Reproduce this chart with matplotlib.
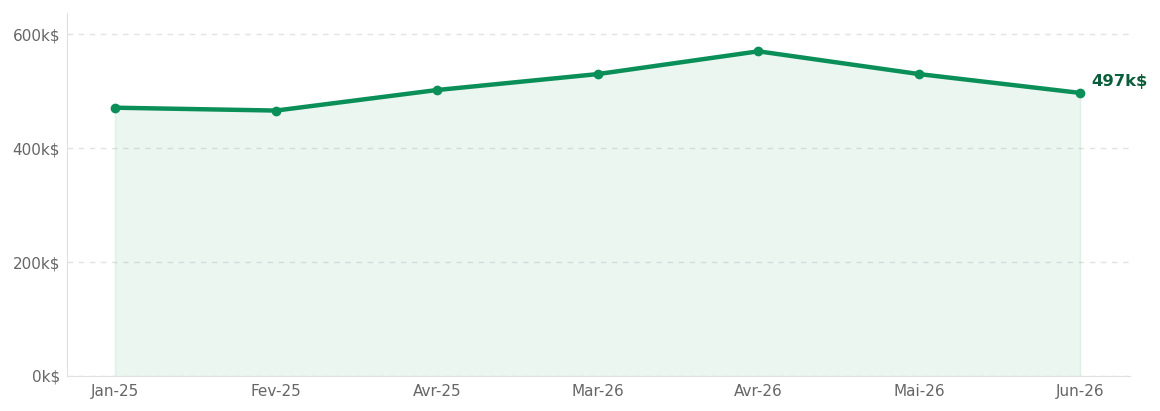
import matplotlib
matplotlib.use('Agg')
import matplotlib.pyplot as plt

MONTHS = ['Jan-25', 'Fev-25', 'Avr-25', 'Mar-26', 'Avr-26', 'Mai-26', 'Jun-26']
VALUES = [471, 466, 502, 530, 570, 530, 497]
Y_TICKS = [0, 200, 400, 600]
Y_LABELS = ['0k$', '200k$', '400k$', '600k$']

GREEN = '#0b8f58'
LABEL_GREEN = '#0b5e3b'

fig = plt.figure(figsize=(11.6, 4.11), dpi=100)
ax = fig.add_axes([0.0578, 0.0852, 0.9162, 0.8828])

x = list(range(len(MONTHS)))
ax.fill_between(x, VALUES, 0, color=GREEN, alpha=0.08, linewidth=0)
ax.plot([x[-1], x[-1]], [0, VALUES[-1]], color=GREEN, alpha=0.1, linewidth=1)
ax.plot([x[0], x[0]], [0, VALUES[0]], color=GREEN, alpha=0.1, linewidth=1)
ax.plot(x, VALUES, color=GREEN, linewidth=3.2, marker='o', markersize=6, zorder=3)

ax.annotate(f'{VALUES[-1]}k$', (x[-1], VALUES[-1]), xytext=(8, 3),
            textcoords='offset points', color=LABEL_GREEN, fontsize=11.8,
            fontweight='bold', ha='left', va='bottom', annotation_clip=False)

ax.set_xlim(-0.3, 6.31)
ax.set_ylim(0, 637)
ax.set_xticks(x)
ax.set_xticklabels(MONTHS)
ax.set_yticks(Y_TICKS)
ax.set_yticklabels(Y_LABELS)
ax.tick_params(length=0, colors='#666666', labelsize=11)
ax.tick_params(axis='y', pad=5)
ax.tick_params(axis='x', pad=6)
ax.yaxis.grid(True, linestyle=(0, (4, 4)), color='#e2e2e2', linewidth=1)
ax.set_axisbelow(True)
for s in ['top', 'right']:
    ax.spines[s].set_visible(False)
for s in ['left', 'bottom']:
    ax.spines[s].set_color('#e0e0e0')

fig.savefig('out.png')
